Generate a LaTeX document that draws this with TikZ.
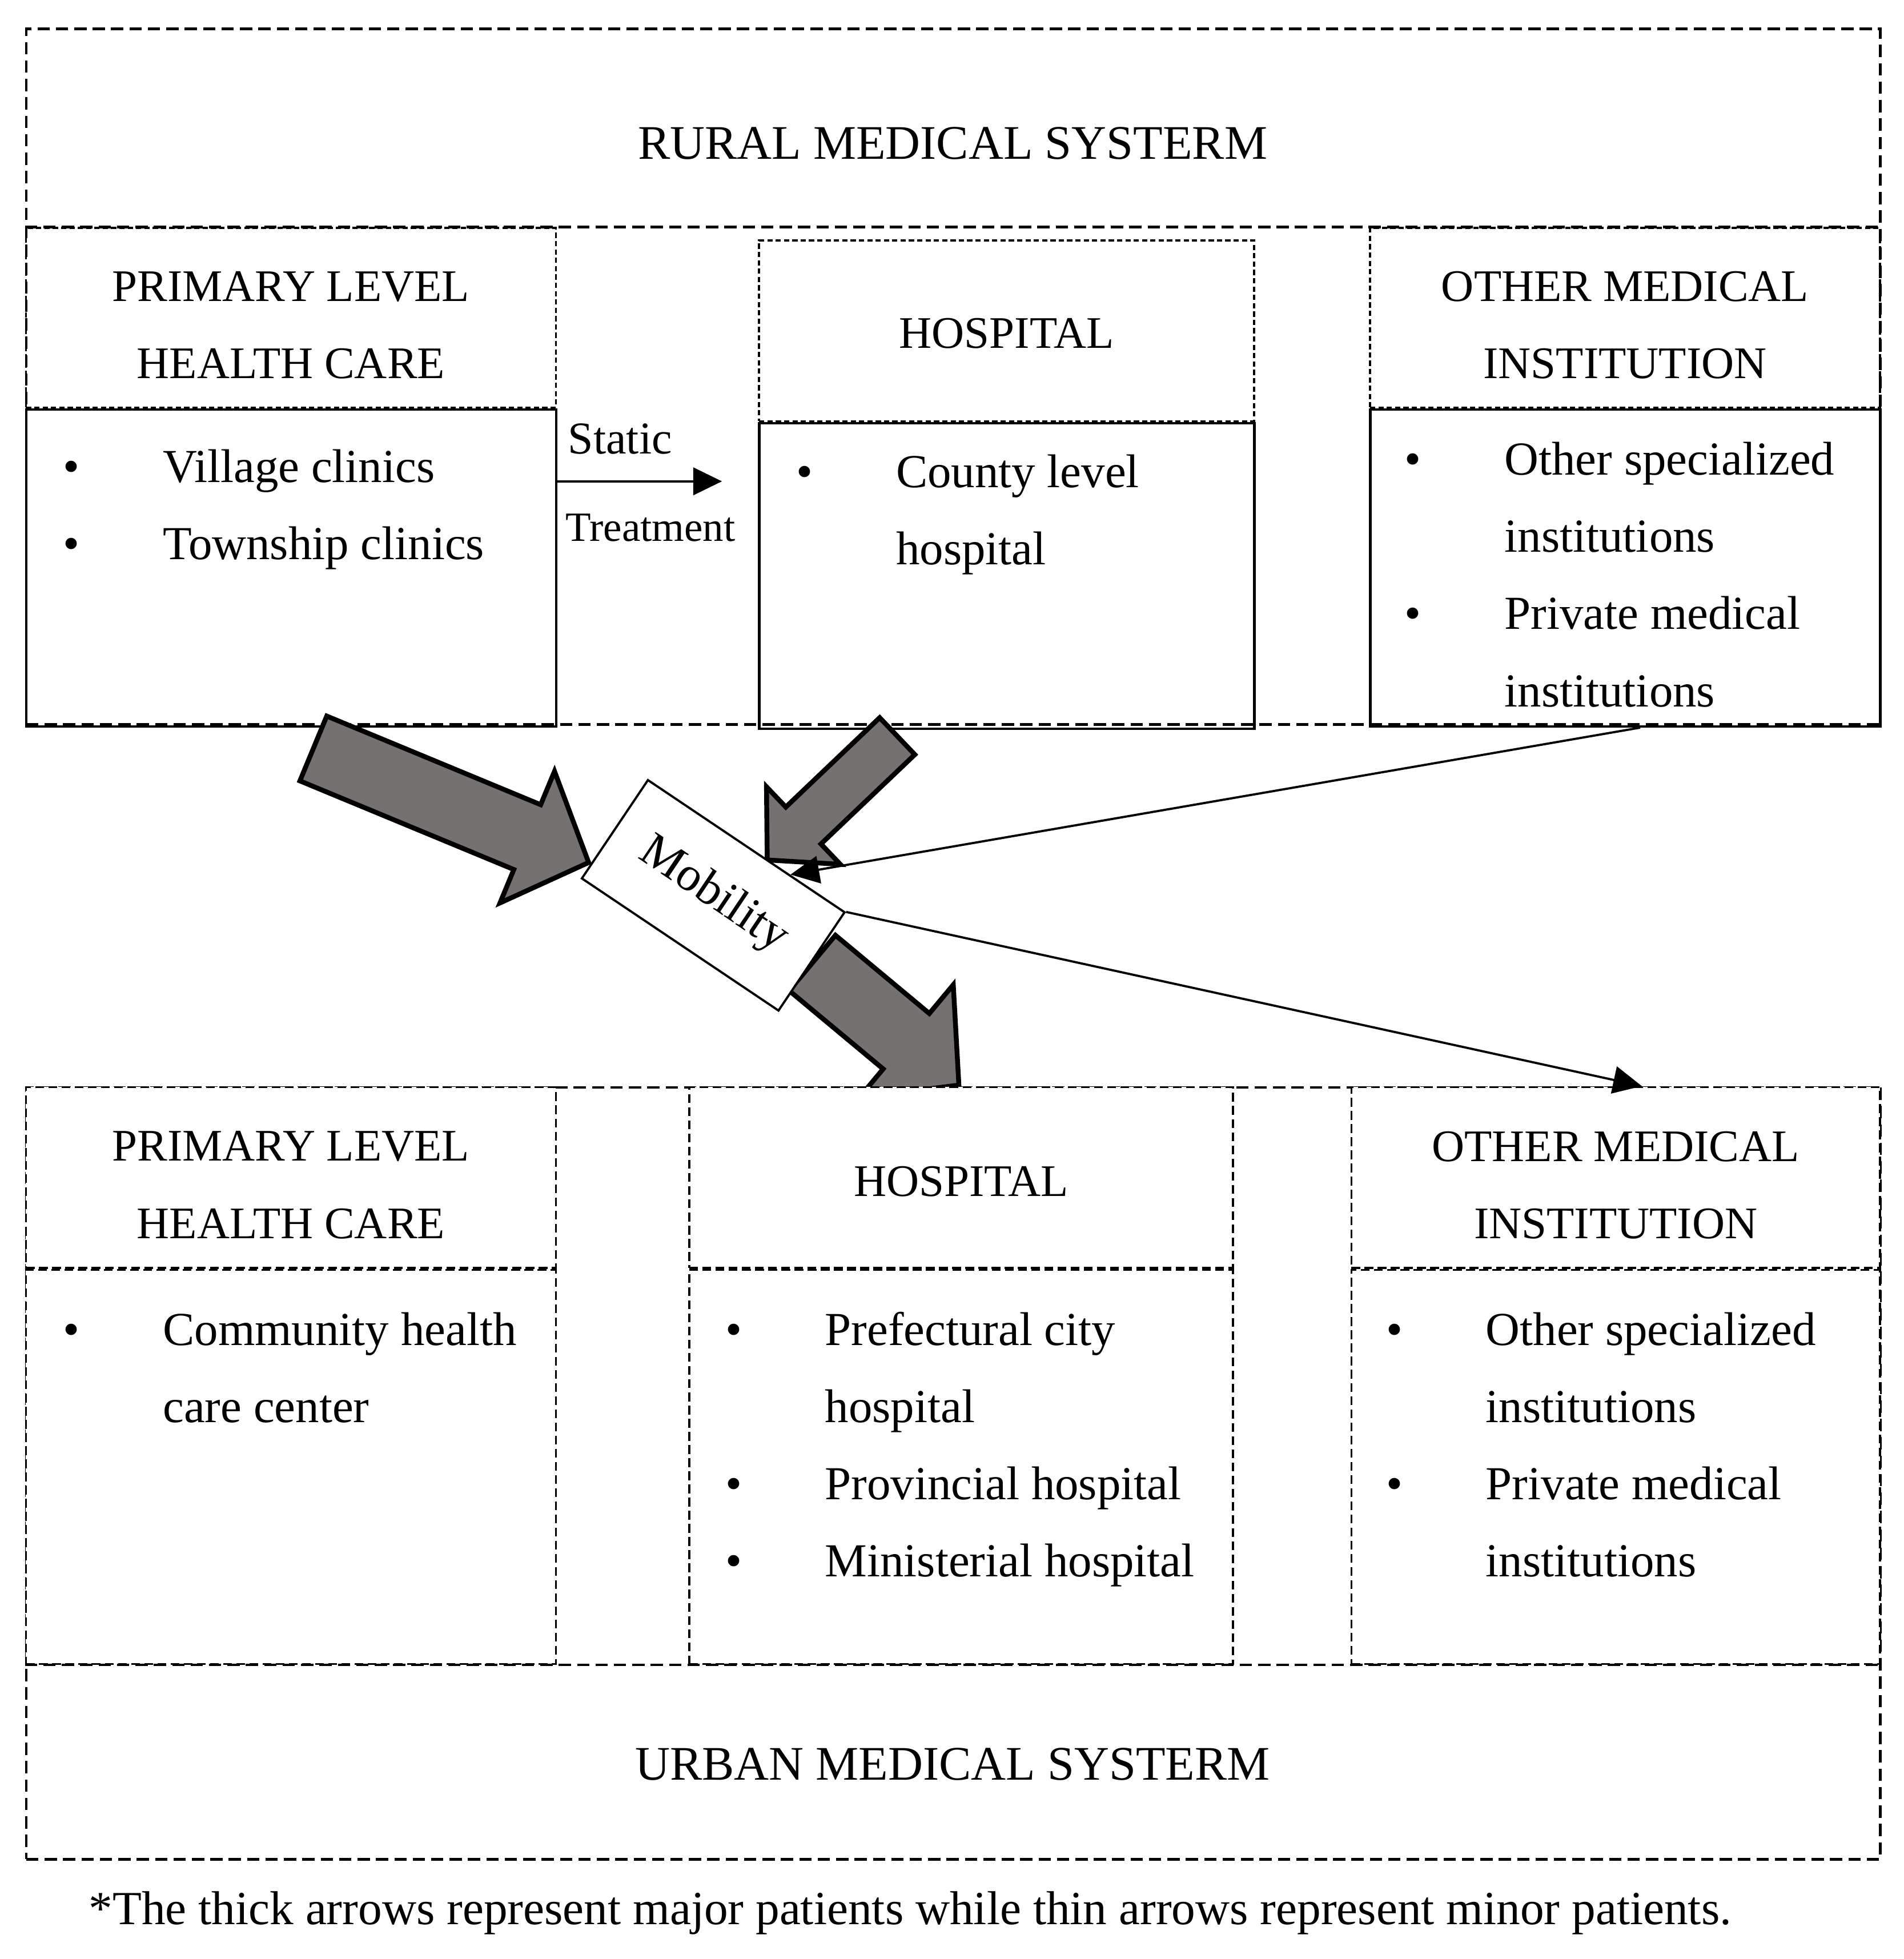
\documentclass[tikz,border=0pt]{standalone}
\usepackage{fontspec}
\setmainfont{Liberation Serif}
\usepackage{xcolor}
\usetikzlibrary{shapes.arrows, arrows.meta, positioning, calc}
\definecolor{arrowgray}{HTML}{767171}

\begin{document}
\begin{tikzpicture}[
    % Styles
    sysframe/.style={
        draw=black, line width=0.6pt,
        dash pattern=on 2.8pt off 1.4pt,
        inner sep=0pt
    },
    systitle/.style={font=\fontsize{11}{17.6}\selectfont, inner sep=0pt},
    headbox/.style={
        rectangle, draw=black, line width=0.45pt,
        dash pattern=on 1.2pt off 0.7pt
    },
    bodybox/.style={
        rectangle, draw=black, line width=0.55pt
    },
    urbbox/.style={
        rectangle, draw=black, fill=white, line width=0.45pt,
        dash pattern=on 2pt off 1pt
    },
    headtext/.style={font=\fontsize{10.3}{17.6}\selectfont, align=center, inner sep=0pt},
    itemlist/.style={anchor=base west, inner sep=0pt, font=\fontsize{10.8}{17.6}\selectfont},
    thickarrow/.style={
        single arrow, draw=black, line width=1.1pt, fill=arrowgray,
        inner xsep=0pt, single arrow tip angle=94
    },
    mobbox/.style={
        rectangle, draw=black, fill=white, line width=0.5pt,
        font=\fontsize{11}{13}\selectfont
    },
    arrow/.style={-{Triangle[length=2.3mm, width=2.2mm]}, line width=0.5pt},
    lbl/.style={anchor=base west, inner sep=0pt}
]
\useasboundingbox (0,0) rectangle (15.27,-15.71);

% === RURAL SYSTEM ===
\node (rural) [sysframe, minimum width=14.87cm, minimum height=5.58cm, anchor=north west] at (0.20,-0.22) {};
\node (ruraltitle) [systitle] at (7.64,-1.15) {RURAL MEDICAL SYSTERM};

\node (rphc) [headbox, minimum width=4.25cm, minimum height=1.44cm, anchor=north west] at (0.20,-1.82) {};
\node (rphcb) [bodybox, minimum width=4.25cm, minimum height=2.54cm, anchor=north west] at (rphc.south west) {};
\node (rhos) [headbox, minimum width=3.97cm, minimum height=1.45cm, anchor=north west] at (6.08,-1.92) {};
\node (rhosb) [bodybox, minimum width=3.97cm, minimum height=2.45cm, anchor=north west] at (rhos.south west) {};
\node (roth) [headbox, minimum width=4.09cm, minimum height=1.44cm, anchor=north west] at (10.98,-1.82) {};
\node (rothb) [bodybox, minimum width=4.09cm, minimum height=2.54cm, anchor=north west] at (roth.south west) {};
\draw [sysframe] (rural.west |- rphc.north) -- (rural.east |- rphc.north);

\node (rphct) [headtext] at ([yshift=-0.6mm]rphc.center) {PRIMARY LEVEL\\HEALTH CARE};
\node (rhost) [headtext] at ([yshift=-0.2mm]rhos.center) {HOSPITAL};
\node (rotht) [headtext] at ([yshift=-0.6mm]roth.center) {OTHER MEDICAL\\INSTITUTION};

\node (rphcl) [itemlist] at (0.50,-3.87) {\begin{tabular}[t]{@{}p{0.80cm}@{}l@{}}
    \textbullet & Village clinics\\
    \textbullet & Township clinics
\end{tabular}};
\node (rhosl) [itemlist] at (6.38,-3.91) {\begin{tabular}[t]{@{}p{0.80cm}@{}l@{}}
    \textbullet & County level\\
    & hospital
\end{tabular}};
\node (rothl) [itemlist] at (11.26,-3.81) {\begin{tabular}[t]{@{}p{0.80cm}@{}l@{}}
    \textbullet & Other specialized\\
    & institutions\\
    \textbullet & Private medical\\
    & institutions
\end{tabular}};

% Static treatment
\coordinate (statictip) at (5.79,-3.86);
\draw [arrow] (rphcb.east |- statictip) -- (statictip);
\node (staticlbl) [lbl, font=\fontsize{10.4}{12}\selectfont] at (4.55,-3.64) {Static};
\node (treatlbl) [lbl, font=\fontsize{9.5}{12}\selectfont] at (4.53,-4.34) {Treatment};

% === THICK ARROWS (major patients) ===
\node (major1) [thickarrow, rotate=-22.5, inner ysep=0.262cm, minimum height=2.39cm, single arrow head extend=0.29cm, anchor=tail] at (2.495,-5.995) {};
\node (major2) [thickarrow, rotate=-136.4, inner ysep=0.185cm, minimum height=1.44cm, single arrow head extend=0.225cm, anchor=tail] at (7.21,-5.89) {};
\node (major3) [thickarrow, rotate=-39.8, inner ysep=0.27cm, minimum height=1.53cm, single arrow head extend=0.30cm, anchor=tail] at (6.50,-7.71) {};

% === URBAN SYSTEM ===
\node (urban) [sysframe, fill=white, minimum width=14.87cm, minimum height=6.19cm, anchor=north west] at (0.20,-8.71) {};
\node (urbantitle) [systitle] at (7.64,-14.15) {URBAN MEDICAL SYSTERM};

\node (uphc) [urbbox, minimum width=4.25cm, minimum height=1.45cm, anchor=north west] at (urban.north west) {};
\node (uphcb) [urbbox, minimum width=4.25cm, minimum height=3.16cm, anchor=north west] at (uphc.south west) {};
\node (uhos) [urbbox, minimum width=4.36cm, minimum height=1.45cm, anchor=north west] at (5.52,-8.71) {};
\node (uhosb) [urbbox, minimum width=4.36cm, minimum height=3.16cm, anchor=north west] at (uhos.south west) {};
\node (uoth) [urbbox, minimum width=4.24cm, minimum height=1.45cm, anchor=north west] at (10.83,-8.71) {};
\node (uothb) [urbbox, minimum width=4.24cm, minimum height=3.16cm, anchor=north west] at (uoth.south west) {};
\draw [sysframe] (urban.west |- uphcb.south) -- (urban.east |- uphcb.south);

\node (uphct) [headtext] at ([yshift=-0.6mm]uphc.center) {PRIMARY LEVEL\\HEALTH CARE};
\node (uhost) [headtext] at ([yshift=-0.3mm]uhos.center) {HOSPITAL};
\node (uotht) [headtext] at ([yshift=-0.6mm]uoth.center) {OTHER MEDICAL\\INSTITUTION};

\node (uphcl) [itemlist] at (0.50,-10.79) {\begin{tabular}[t]{@{}p{0.80cm}@{}l@{}}
    \textbullet & Community health\\
    & care center
\end{tabular}};
\node (uhosl) [itemlist] at (5.81,-10.79) {\begin{tabular}[t]{@{}p{0.80cm}@{}l@{}}
    \textbullet & Prefectural city\\
    & hospital\\
    \textbullet & Provincial hospital\\
    \textbullet & Ministerial hospital
\end{tabular}};
\node (uothl) [itemlist] at (11.11,-10.79) {\begin{tabular}[t]{@{}p{0.80cm}@{}l@{}}
    \textbullet & Other specialized\\
    & institutions\\
    \textbullet & Private medical\\
    & institutions
\end{tabular}};

% === MOBILITY ===
\node (mob) [mobbox, rotate=-33.9, minimum width=1.90cm, minimum height=0.95cm] at (5.72,-7.18) {Mobility};

% Thin arrows (minor patients)
\draw [arrow] ([xshift=1.2mm]rothb.south) -- ($(mob.north west)!0.72!(mob.north east)$);
\draw [arrow] (mob.north east) -- ([xshift=2.1mm]uoth.north);

% Note
\node (note) [systitle, font=\fontsize{10.85}{13}\selectfont] at (7.30,-15.34) {*The thick arrows represent major patients while thin arrows represent minor patients.};

\end{tikzpicture}
\end{document}
